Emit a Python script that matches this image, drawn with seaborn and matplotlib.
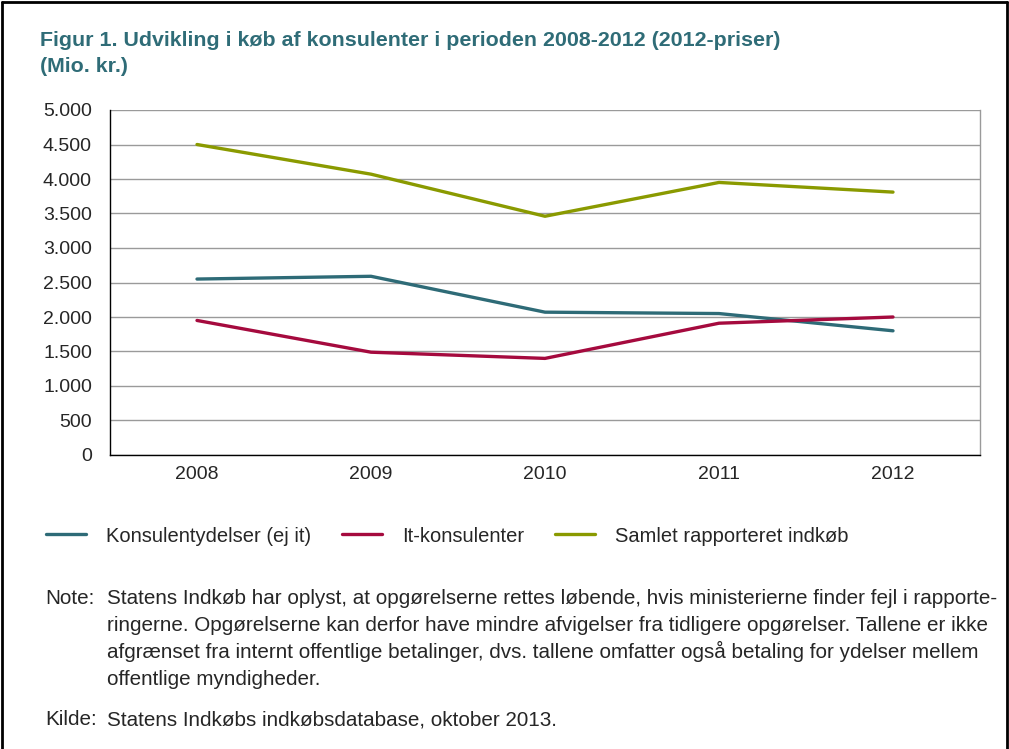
import numpy as np
import matplotlib.pyplot as plt
import pandas as pd
import seaborn as sns
from matplotlib.lines import Line2D
from matplotlib.ticker import FuncFormatter

years = ['2008', '2009', '2010', '2011', '2012']
konsulent = [2550, 2590, 2070, 2050, 1800]
it_konsulent = [1950, 1490, 1400, 1910, 2000]
samlet = [4500, 4070, 3460, 3950, 3810]
series_names = ['Konsulentydelser (ej it)', 'It-konsulenter', 'Samlet rapporteret indkøb']
colors = ['#2E6B77', '#A50A3E', '#8A9A00']

title = 'Figur 1. Udvikling i køb af konsulenter i perioden 2008-2012 (2012-priser)\n(Mio. kr.)'
note_lines = [
    'Statens Indkøb har oplyst, at opgørelserne rettes løbende, hvis ministerierne finder fejl i rapporte-',
    'ringerne. Opgørelserne kan derfor have mindre afvigelser fra tidligere opgørelser. Tallene er ikke',
    'afgrænset fra internt offentlige betalinger, dvs. tallene omfatter også betaling for ydelser mellem',
    'offentlige myndigheder.',
]
kilde = 'Statens Indkøbs indkøbsdatabase, oktober 2013.'

df = pd.DataFrame({
    'pos': list(range(len(years))) * 3,
    'value': konsulent + it_konsulent + samlet,
    'serie': [s for s in series_names for _ in years],
})

sns.set_style('white')
plt.rcParams['font.family'] = ['Liberation Sans', 'DejaVu Sans']

fig = plt.figure(figsize=(10.09, 7.49), dpi=100)
ax = fig.add_axes([110 / 1009, 1 - 455 / 749, 870 / 1009, 345 / 749])

sns.lineplot(data=df, x='pos', y='value', hue='serie', palette=colors,
             hue_order=series_names, linewidth=2.4, ax=ax, legend=False)

ax.set_xlim(-0.5, len(years) - 0.5)
ax.set_ylim(0, 5000)
ax.set_yticks(np.arange(0, 5001, 500))
ax.yaxis.set_major_formatter(FuncFormatter(lambda v, p: f'{int(v):,}'.replace(',', '.')))
ax.set_xticks(range(len(years)))
ax.set_xticklabels(years)
ax.set_xticks(np.arange(-0.5, len(years), 1), minor=True)
ax.tick_params(axis='x', which='major', length=0, labelsize=14, pad=8)
ax.tick_params(axis='x', which='minor', length=6, width=1, color='black', direction='out')
ax.tick_params(axis='y', length=5, width=1, color='black', direction='out', labelsize=14, pad=8)
ax.grid(axis='y', color='#9a9a9a', linewidth=1)
ax.set_axisbelow(True)
ax.set_xlabel('')
ax.set_ylabel('')
for side in ['left', 'bottom']:
    ax.spines[side].set_color('black')
    ax.spines[side].set_linewidth(1)
ax.spines['top'].set_visible(False)
ax.spines['right'].set_color('#9a9a9a')
ax.spines['right'].set_linewidth(1)

fig.text(40 / 1009, 1 - 31 / 749, title, color='#2F6C77', fontsize=15.4, fontweight='bold',
         va='top', ha='left', linespacing=1.45)

handles = [Line2D([0], [0], color=c, linewidth=2.4) for c in colors]
fig.legend(handles, series_names, loc='center left', bbox_to_anchor=(38 / 1009, 1 - 536 / 749),
           ncol=3, frameon=False, fontsize=14.5, handlelength=2.0, handletextpad=1.0,
           columnspacing=1.5, borderaxespad=0)

y0 = 604
for i, line in enumerate(note_lines):
    fig.text(107 / 1009, 1 - (y0 + 27 * i) / 749, line, fontsize=14.9, va='baseline', ha='left')
fig.text(45 / 1009, 1 - y0 / 749, 'Note:', fontsize=14.9, va='baseline', ha='left')
fig.text(45 / 1009, 1 - 725 / 749, 'Kilde:', fontsize=14.9, va='baseline', ha='left')
fig.text(107 / 1009, 1 - 725 / 749, kilde, fontsize=14.9, va='baseline', ha='left')

# frame around the figure (top, left, right)
for xs, ys in [([0.002, 0.998], [0.997, 0.997]), ([0.002, 0.002], [0, 0.997]), ([0.998, 0.998], [0, 0.997])]:
    fig.add_artist(Line2D(xs, ys, color='black', linewidth=2, transform=fig.transFigure))

fig.savefig('out.png', dpi=100)
